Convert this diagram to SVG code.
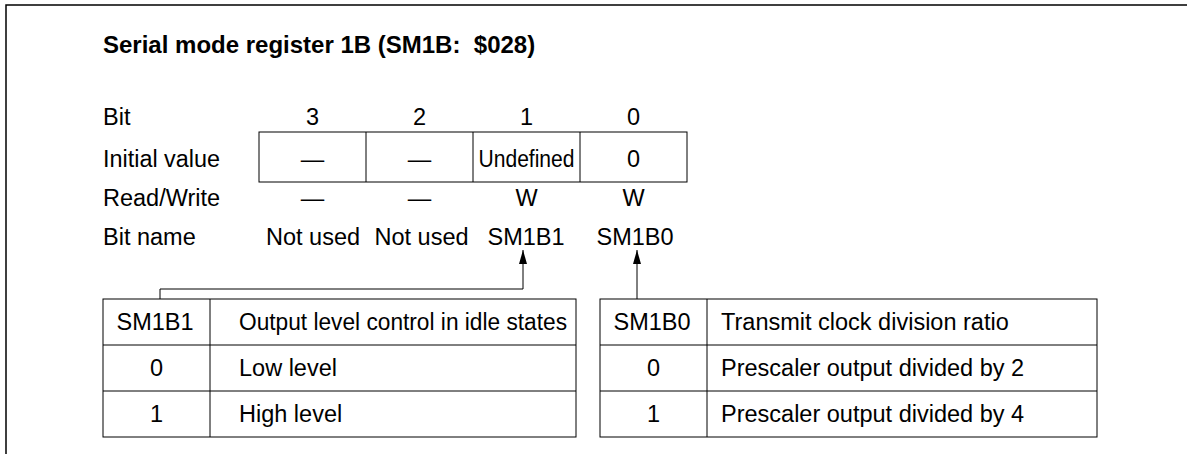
<svg xmlns="http://www.w3.org/2000/svg" width="1187" height="454" viewBox="0 0 1187 454">
<defs>
<style>
text{font-family:"Liberation Sans",Arial,sans-serif;font-size:23.5px;fill:#000}
.t{font-weight:bold;font-size:24px}
.c{text-anchor:middle}
.ln{stroke:#000;stroke-width:1;fill:none}
.fr{stroke:#000;stroke-width:1.5;fill:none}
</style>
<marker id="ah" markerWidth="14" markerHeight="8" refX="14" refY="4" orient="auto" markerUnits="userSpaceOnUse" viewBox="0 0 14 8">
<path d="M0,0 L14,4 L0,8 Z" fill="#000"/>
</marker>
</defs>
<rect width="1187" height="454" fill="#fff"/>
<path class="fr" d="M6,454 V5 H1187"/>
<text class="t" x="103" y="53" xml:space="preserve">Serial mode register 1B (SM1B:  $028)</text>
<g id="register">
<text x="103" y="125">Bit</text>
<text x="103" y="167" textLength="117" lengthAdjust="spacingAndGlyphs">Initial value</text>
<text x="103" y="206">Read/Write</text>
<text x="103" y="245">Bit name</text>
<text class="c" x="312.5" y="125">3</text>
<text class="c" x="419.5" y="125">2</text>
<text class="c" x="526.5" y="125">1</text>
<text class="c" x="633.5" y="125">0</text>
<rect class="ln" x="259" y="132" width="428" height="50"/>
<path class="ln" d="M366,132V182M473,132V182M580,132V182"/>
<text class="c" x="312.5" y="167">—</text>
<text class="c" x="419.5" y="167">—</text>
<text class="c" x="526.5" y="167" textLength="96" lengthAdjust="spacingAndGlyphs">Undefined</text>
<text class="c" x="633.5" y="167">0</text>
<text class="c" x="312.5" y="206">—</text>
<text class="c" x="419.5" y="206">—</text>
<text class="c" x="526.5" y="206">W</text>
<text class="c" x="633.5" y="206">W</text>
<text class="c" x="313" y="245">Not used</text>
<text class="c" x="421.5" y="245">Not used</text>
<text class="c" x="526" y="245">SM1B1</text>
<text class="c" x="635" y="245">SM1B0</text>
</g>
<g id="connectors">
<path class="ln" d="M160,299V289H523V250" marker-end="url(#ah)"/>
<path class="ln" d="M637,299V250" marker-end="url(#ah)"/>
</g>
<g id="table-sm1b1">
<rect class="ln" x="103" y="299" width="473" height="138"/>
<path class="ln" d="M103,345H576M103,391H576M210,299V437"/>
<text class="c" x="155" y="330">SM1B1</text>
<text x="239" y="330" textLength="328" lengthAdjust="spacingAndGlyphs">Output level control in idle states</text>
<text class="c" x="156.5" y="376">0</text>
<text x="239" y="376">Low level</text>
<text class="c" x="156.5" y="422">1</text>
<text x="239" y="422">High level</text>
</g>
<g id="table-sm1b0">
<rect class="ln" x="600" y="299" width="497" height="138"/>
<path class="ln" d="M600,345H1097M600,391H1097M707,299V437"/>
<text class="c" x="652" y="330">SM1B0</text>
<text x="721" y="330">Transmit clock division ratio</text>
<text class="c" x="653.5" y="376">0</text>
<text x="721" y="376">Prescaler output divided by 2</text>
<text class="c" x="653.5" y="422">1</text>
<text x="721" y="422">Prescaler output divided by 4</text>
</g>
</svg>
